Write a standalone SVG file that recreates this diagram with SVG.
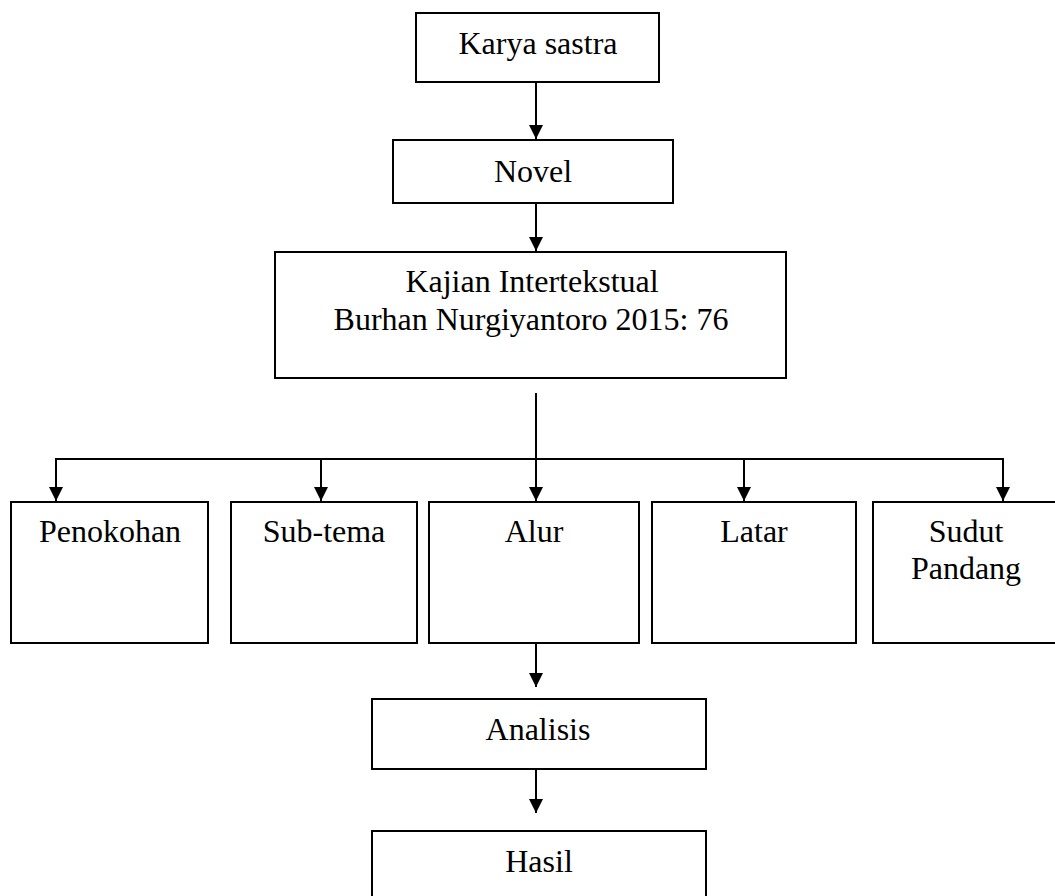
<svg xmlns="http://www.w3.org/2000/svg" width="1055" height="896" viewBox="0 0 1055 896">
<style>
.box{fill:#fff;stroke:#000;stroke-width:2}
.lbl{font-family:"Liberation Serif","Times New Roman",serif;font-size:32px;fill:#000;text-anchor:middle}
.con{fill:none;stroke:#000;stroke-width:2}
</style>
<defs>
<marker id="arr" markerUnits="userSpaceOnUse" markerWidth="16" markerHeight="16" refX="14" refY="7" orient="auto">
<path d="M0,0 L14,7 L0,14 Z" fill="#000"/>
</marker>
</defs>
<rect width="1055" height="896" fill="#fff"/>
<g id="n-karya"><rect class="box" x="416" y="13" width="243" height="69"/><text class="lbl" x="538" y="54">Karya sastra</text></g>
<g id="n-novel"><rect class="box" x="393" y="140" width="280" height="63"/><text class="lbl" x="533" y="182">Novel</text></g>
<g id="n-kajian"><rect class="box" x="275" y="252" width="511" height="126"/><text class="lbl" x="532" y="292">Kajian Intertekstual</text><text class="lbl" x="531" y="330">Burhan Nurgiyantoro 2015: 76</text></g>
<g id="n-penokohan"><rect class="box" x="11" y="502" width="197" height="141"/><text class="lbl" x="110" y="542">Penokohan</text></g>
<g id="n-subtema"><rect class="box" x="231" y="502" width="186" height="141"/><text class="lbl" x="324" y="542">Sub-tema</text></g>
<g id="n-alur"><rect class="box" x="429" y="502" width="210" height="141"/><text class="lbl" x="534" y="542">Alur</text></g>
<g id="n-latar"><rect class="box" x="652" y="502" width="204" height="141"/><text class="lbl" x="754" y="542">Latar</text></g>
<g id="n-sudut"><rect class="box" x="873" y="502" width="190" height="141"/><text class="lbl" x="966" y="542">Sudut</text><text class="lbl" x="966" y="579">Pandang</text></g>
<g id="n-analisis"><rect class="box" x="372" y="699" width="334" height="70"/><text class="lbl" x="538" y="740">Analisis</text></g>
<g id="n-hasil"><rect class="box" x="372" y="831" width="334" height="80"/><text class="lbl" x="539" y="872">Hasil</text></g>
<g id="connectors">
<line class="con" x1="536" y1="82" x2="536" y2="139" marker-end="url(#arr)"/>
<line class="con" x1="536" y1="203" x2="536" y2="251" marker-end="url(#arr)"/>
<line class="con" x1="536" y1="393" x2="536" y2="459"/>
<line class="con" x1="55" y1="459" x2="1004" y2="459"/>
<line class="con" x1="56" y1="458" x2="56" y2="501" marker-end="url(#arr)"/>
<line class="con" x1="321" y1="458" x2="321" y2="501" marker-end="url(#arr)"/>
<line class="con" x1="536" y1="458" x2="536" y2="501" marker-end="url(#arr)"/>
<line class="con" x1="744" y1="458" x2="744" y2="501" marker-end="url(#arr)"/>
<line class="con" x1="1003" y1="458" x2="1003" y2="501" marker-end="url(#arr)"/>
<line class="con" x1="536" y1="644" x2="536" y2="687" marker-end="url(#arr)"/>
<line class="con" x1="536" y1="769" x2="536" y2="813" marker-end="url(#arr)"/>
</g>
</svg>
